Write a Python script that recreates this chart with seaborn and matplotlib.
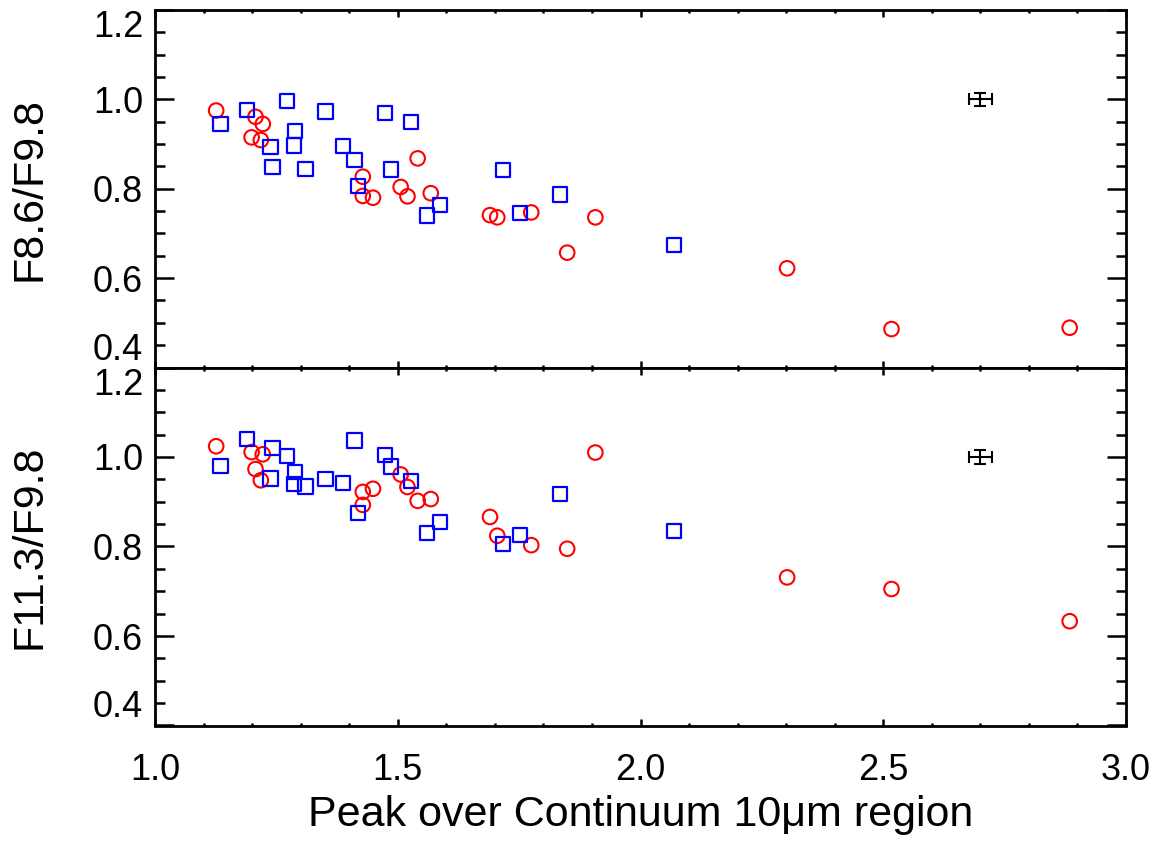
import numpy as np
import pandas as pd
import matplotlib
matplotlib.use("Agg")
import matplotlib.pyplot as plt
import seaborn as sns
from matplotlib.ticker import MultipleLocator, FixedLocator

# ---------------- data ----------------
circ_x = [1.126, 1.207, 1.222, 1.199, 1.218, 1.541, 1.428, 1.506, 1.428, 1.449,
          1.520, 1.568, 1.690, 1.705, 1.775, 1.907, 1.849, 2.302, 2.517, 2.884]
circ_f86 = [0.975, 0.961, 0.945, 0.915, 0.909, 0.868, 0.827, 0.804, 0.784, 0.780,
            0.783, 0.790, 0.741, 0.736, 0.747, 0.736, 0.657, 0.622, 0.486, 0.489]
circ_f113 = [1.024, 0.973, 1.006, 1.011, 0.948, 0.902, 0.922, 0.961, 0.893, 0.929,
             0.933, 0.906, 0.866, 0.824, 0.803, 1.010, 0.795, 0.731, 0.705, 0.633]

sq_x = [1.135, 1.189, 1.272, 1.351, 1.474, 1.527, 1.289, 1.238, 1.286, 1.387, 1.411,
        1.242, 1.310, 1.486, 1.418, 1.717, 1.587, 1.561, 1.752, 1.834, 2.069]
sq_f86 = [0.945, 0.977, 0.996, 0.973, 0.969, 0.950, 0.929, 0.893, 0.897, 0.895, 0.865,
          0.848, 0.845, 0.843, 0.807, 0.842, 0.763, 0.740, 0.745, 0.787, 0.674]
sq_f113 = [0.980, 1.040, 1.003, 0.951, 1.005, 0.947, 0.966, 0.952, 0.939, 0.942, 1.037,
           1.020, 0.934, 0.979, 0.875, 0.805, 0.855, 0.831, 0.826, 0.917, 0.834]

err_x = 2.7
err_y = 1.0
err_dx = 0.024
err_dy = 0.015

x_ticks = [1.0, 1.5, 2.0, 2.5, 3.0]
y_ticks = [0.4, 0.6, 0.8, 1.0, 1.2]
x_label = "Peak over Continuum 10\u03bcm region"
y_labels = ["F8.6/F9.8", "F11.3/F9.8"]

# ---------------- style ----------------
sns.set_style("white")
plt.rcParams['font.family'] = ['Liberation Sans', 'DejaVu Sans']
plt.rcParams['text.color'] = 'black'
plt.rcParams['axes.labelcolor'] = 'black'
plt.rcParams['xtick.color'] = 'black'
plt.rcParams['ytick.color'] = 'black'
plt.rcParams['xtick.labelcolor'] = 'black'
plt.rcParams['ytick.labelcolor'] = 'black'

W, H = 1164, 843
fig = plt.figure(figsize=(W / 100, H / 100), dpi=100)
left, right = 155, 1126
ax_top = fig.add_axes([left / W, 1 - 367.5 / H, (right - left) / W, 357.5 / H])
ax_bot = fig.add_axes([left / W, 1 - 725.5 / H, (right - left) / W, 358 / H], sharex=ax_top)

panels = [(ax_top, circ_f86, sq_f86, y_labels[0]),
          (ax_bot, circ_f113, sq_f113, y_labels[1])]

for ax, yc, ys, ylab in panels:
    df_c = pd.DataFrame({"x": circ_x, "y": yc})
    df_s = pd.DataFrame({"x": sq_x, "y": ys})
    sns.scatterplot(data=df_c, x="x", y="y", marker="o", s=110,
                    facecolor="none", edgecolor="#ff0000", linewidth=1.5, ax=ax, zorder=3)
    sns.scatterplot(data=df_s, x="x", y="y", marker="s", s=105,
                    facecolor="none", edgecolor="#0000ff", linewidth=1.6, ax=ax, zorder=3)
    ax.errorbar(err_x, err_y, xerr=err_dx, yerr=err_dy, fmt="none", ecolor="black",
                elinewidth=1.5, capsize=4.6, capthick=1.5)

    ax.set_xlim(1.0, 3.0)
    ax.set_ylim(0.4, 1.2)
    ax.xaxis.set_major_locator(FixedLocator(x_ticks))
    ax.xaxis.set_minor_locator(MultipleLocator(0.1))
    ax.set_yticks(y_ticks)
    ax.set_yticklabels([f"{v:.1f}" for v in y_ticks])
    ax.yaxis.set_minor_locator(MultipleLocator(0.05))

    ax.tick_params(axis="both", which="both", direction="in",
                   top=True, right=True, bottom=True, left=True, color="black",
                   labelcolor="black")
    ax.tick_params(axis="y", which="major", length=14, width=1.8, labelsize=26, pad=8.5)
    ax.tick_params(axis="y", which="minor", length=7, width=1.8)
    ax.tick_params(axis="x", which="major", length=5, width=1.8, labelsize=26, pad=20)
    ax.tick_params(axis="x", which="minor", length=2.5, width=1.8)

    for sp in ax.spines.values():
        sp.set_visible(True)
        sp.set_linewidth(2.0)
        sp.set_color("black")

    ax.set_ylabel(ylab, fontsize=31, color="black")
    ax.yaxis.label.set_va("center")
    ax.yaxis.set_label_coords((30 - left) / (right - left), 0.5)
    ax.set_xlabel("")

    labs = ax.get_yticklabels()
    labs[0].set_va("bottom")
    labs[-1].set_va("top")

ax_top.tick_params(axis="x", labelbottom=False)
ax_bot.set_xlabel(x_label, fontsize=31, color="black")
ax_bot.xaxis.set_label_coords(0.5, -0.195)

fig.savefig("out.png", dpi=100)
